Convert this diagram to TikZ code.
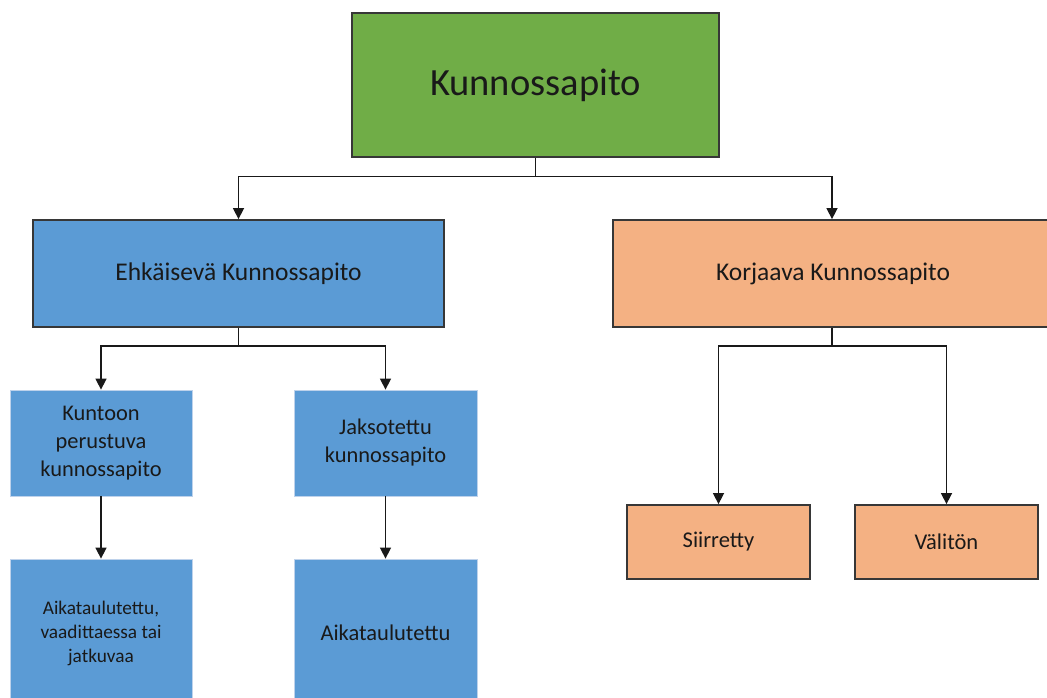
\documentclass[tikz,border=0pt]{standalone}
\usepackage{fontspec}
\setmainfont{Carlito}
\usetikzlibrary{arrows.meta}
\definecolor{boxgreen}{RGB}{112,173,71}
\definecolor{boxblue}{RGB}{91,155,213}
\definecolor{boxorange}{RGB}{244,177,131}
\definecolor{softedge}{RGB}{190,210,235}
\definecolor{edge}{RGB}{55,55,55}
\definecolor{txt}{RGB}{25,25,25}
\tikzset{
  box/.style={rectangle, draw=edge, line width=1.8pt, align=center, text=txt, inner sep=0pt},
  softbox/.style={rectangle, draw=softedge, line width=0.8pt, align=center, text=txt, inner sep=0pt},
  link/.style={draw=black!90, line width=1.5pt, -{Triangle[width=11pt,length=11pt]}},
}
\begin{document}
\begin{tikzpicture}[x=1pt,y=-1pt]
\useasboundingbox (0,0) rectangle (1047,697);
\clip (0,0) rectangle (1047,697);

% root
\node[box, fill=boxgreen, minimum width=367pt, minimum height=144pt, font=\fontsize{38.5}{46}\selectfont]
  (root) at (535.5,85) {Kunnossapito};

% second level
\node[box, fill=boxblue, minimum width=411pt, minimum height=107pt, font=\fontsize{25.5}{30}\selectfont]
  (ehk) at (238.5,273.5) {Ehkäisevä Kunnossapito};
\node[box, fill=boxorange, minimum width=440pt, minimum height=107pt, font=\fontsize{25.5}{30}\selectfont]
  (korj) at (833,273.5) {Korjaava Kunnossapito};

% preventive branch
\node[softbox, fill=boxblue, minimum width=182pt, minimum height=106pt, font=\fontsize{22.4}{28}\selectfont]
  (kunt) at (101,443) {Kuntoon\\perustuva\\kunnossapito};
\node[softbox, fill=boxblue, minimum width=183pt, minimum height=106pt, font=\fontsize{22.4}{28}\selectfont]
  (jakso) at (385.5,443) {Jaksotettu\\kunnossapito};
\node[softbox, fill=boxblue, minimum width=182pt, minimum height=148pt, font=\fontsize{19.3}{24}\selectfont]
  (aika1) at (101,633) {Aikataulutettu,\\vaadittaessa tai\\jatkuvaa};
\node[softbox, fill=boxblue, minimum width=183pt, minimum height=148pt, font=\fontsize{22.5}{27}\selectfont]
  (aika2) at (385.5,633) {Aikataulutettu};

% corrective branch
\node[box, fill=boxorange, minimum width=183pt, minimum height=74pt, font=\fontsize{22.5}{27}\selectfont]
  (siir) at (718.5,542) {Siirretty};
\node[box, fill=boxorange, minimum width=183pt, minimum height=74pt, font=\fontsize{22.5}{27}\selectfont]
  (vali) at (946.5,542) {Välitön};

% connectors
\draw[link] (root.south) -- ++(0,18.5) -| (ehk.north);
\draw[link] (root.south) -- ++(0,18.5) -| ([xshift=-1pt]korj.north);
\draw[link] (ehk.south) -- ++(0,18) -| (kunt.north);
\draw[link] (ehk.south) -- ++(0,18) -| (jakso.north);
\draw[link] (kunt.south) -- (aika1.north);
\draw[link] (jakso.south) -- (aika2.north);
\draw[link] ([xshift=-1pt]korj.south) -- ++(0,18) -| (siir.north);
\draw[link] ([xshift=-1pt]korj.south) -- ++(0,18) -| (vali.north);
\end{tikzpicture}
\end{document}
